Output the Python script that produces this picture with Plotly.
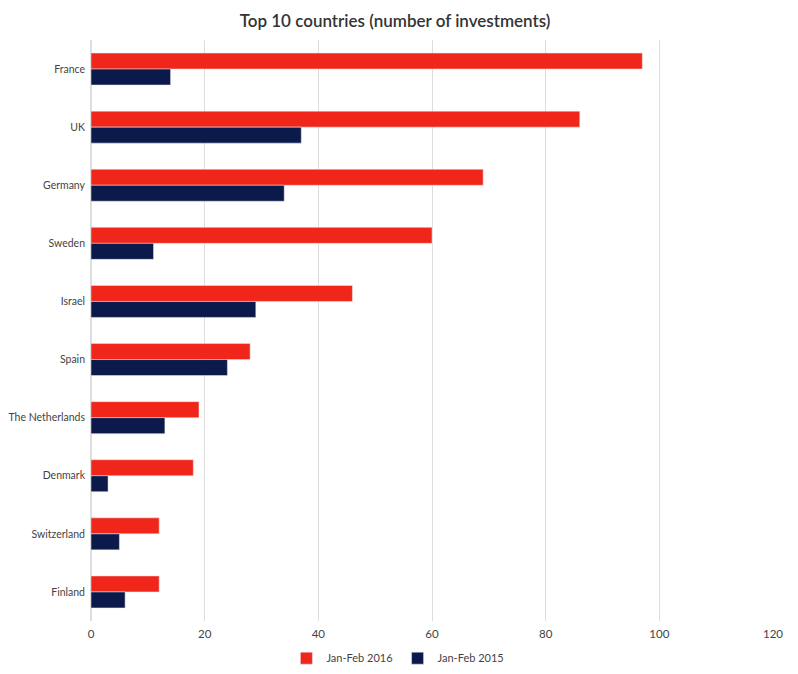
import plotly.graph_objects as go

# Daten aus dem Diagramm
countries = ["France", "UK", "Germany", "Sweden", "Israel", "Spain",
             "The Netherlands", "Denmark", "Switzerland", "Finland"]
jan_feb_2016 = [97, 86, 69, 60, 46, 28, 19, 18, 12, 12]
jan_feb_2015 = [14, 37, 34, 11, 29, 24, 13, 3, 5, 6]

RED = "#F0261A"
NAVY = "#0C1A4B"

fig = go.Figure()
fig.add_trace(go.Bar(y=countries, x=jan_feb_2016, name="Jan-Feb 2016",
                     orientation="h", marker_color=RED))
fig.add_trace(go.Bar(y=countries, x=jan_feb_2015, name="Jan-Feb 2015",
                     orientation="h", marker_color=NAVY))

# Seite hat 8px Body-Rand -> Ränder entsprechend kleiner
fig.update_layout(
    width=798, height=674,
    title=dict(text="Top 10 countries (number of investments)", x=0.485, xanchor="center",
               y=0.98, yanchor="middle",
               font=dict(family="Lato", size=17, color="#333333", weight=600)),
    barmode="group", bargap=0.45, bargroupgap=0,
    plot_bgcolor="white", paper_bgcolor="white",
    margin=dict(l=83, r=33, t=32, b=61, autoexpand=False),
    font=dict(family="Lato", size=11, color="#444444"),
    legend=dict(orientation="h", x=0.45, xanchor="center", y=-0.064, yanchor="middle",
                font=dict(size=11, color="#444444")),
    showlegend=True,
)
fig.update_xaxes(range=[0, 120], dtick=20, showgrid=True, gridcolor="#DDDDDD",
                 zeroline=True, zerolinecolor="#DDDDDD", showline=False,
                 ticks="", ticklabelstandoff=4, automargin=False,
                 tickfont=dict(size=11.5))
fig.update_yaxes(autorange="reversed", showgrid=False, ticks="", ticklabelstandoff=5,
                 automargin=False, tickfont=dict(size=10.5))

fig.write_html("out.html")
